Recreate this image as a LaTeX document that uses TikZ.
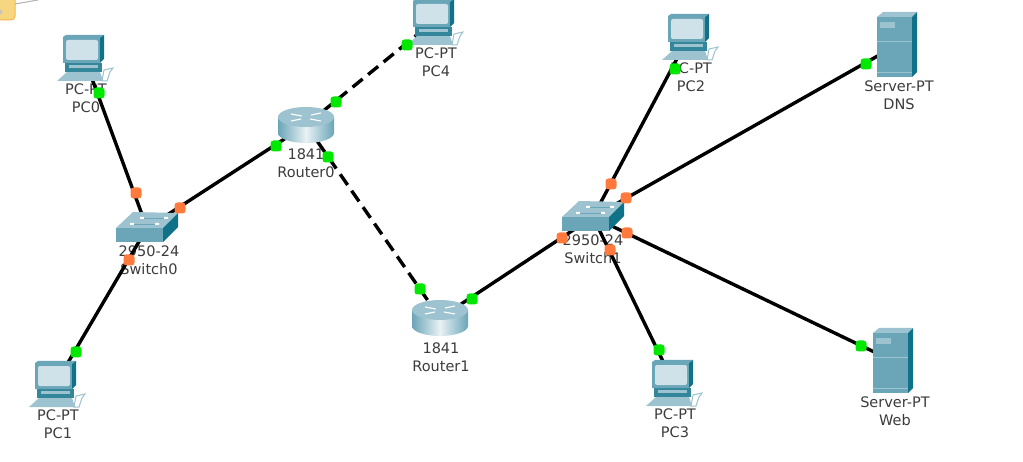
\documentclass[tikz,border=0pt]{standalone}
\usepackage{fontspec}
\setmainfont{DejaVu Sans}
\usepackage{xcolor}
\definecolor{tealbody}{HTML}{6AA5B8}
\definecolor{tealdark}{HTML}{0F7288}
\definecolor{teallight}{HTML}{9CC3CF}
\definecolor{screenblue}{HTML}{CFE2EA}
\definecolor{linkgreen}{HTML}{00E800}
\definecolor{linkorange}{HTML}{FF7A3C}
\definecolor{labelgray}{HTML}{3C3C3C}
\definecolor{notefill}{HTML}{F6D77F}
\tikzset{
  link/.style={black, line width=3.4pt},
  wanlink/.style={link, dash pattern=on 13pt off 7pt},
  devlabel/.style={text=labelgray, font=\fontsize{14.5}{18}\selectfont, align=center, inner sep=0pt},
  upport/.style={rectangle, rounded corners=3pt, fill=linkgreen, minimum size=11pt, inner sep=0pt},
  waitport/.style={rectangle, rounded corners=3pt, fill=linkorange, minimum size=11pt, inner sep=0pt},
  pics/pcicon/.style={code={
    \fill[white, draw=teallight, line width=1pt] (18,24) -- (20,13) -- (29,11) -- (26,15) -- (23,24) -- cycle;
    \fill[teallight] (-27,24) -- (-17,15) -- (16,15) -- (19,24) -- cycle;
    \fill[tealdark!60!tealbody] (-19,6) -- (18,6) -- (18,15) -- (-19,15) -- cycle;
    \fill[teallight] (-15,8) rectangle (14,11);
    \fill[tealbody] (-21,-20) -- (-18,-22) -- (20,-22) -- (16,-19) -- (16,6) -- (-21,6) -- cycle;
    \fill[tealdark] (16,-19) -- (20,-22) -- (20,2) -- (16,6) -- cycle;
    \fill[screenblue, rounded corners=2pt] (-18,-17) rectangle (14,3);
  }},
  pics/switchicon/.style={code={
    \fill[teallight] (-31,0) -- (-14,-16) -- (31,-15) -- (16,0) -- cycle;
    \fill[tealbody] (-31,0) rectangle (16,14);
    \fill[tealdark] (16,0) -- (31,-15) -- (31,-1) -- (16,14) -- cycle;
    \fill[white] (-7,-11) rectangle (-3,-9) (-17,-5) rectangle (-13,-3)
      (17,-11) rectangle (21,-9) (8,-5) rectangle (12,-3);
    \draw[tealbody, line width=0.7pt] (-3,-10) -- (17,-10) (-13,-4) -- (8,-4);
  }},
  pics/routericon/.style={code={
    \shade[left color=tealbody, right color=tealbody, middle color=white!85!tealbody]
      (-28,-8) -- (-28,8) arc[start angle=180, end angle=0, x radius=28, y radius=10]
      -- (28,-8) -- cycle;
    \fill[teallight] (0,-8) ellipse[x radius=28, y radius=10];
    \draw[white, line width=1.1pt] (-15,-11) -- (-4,-9) (4,-6) -- (15,-4)
      (-15,-4) -- (-5,-6) (5,-10) -- (15,-12);
  }},
  pics/servericon/.style={code={
    \fill[teallight] (-20,-28) -- (-14,-33) -- (20,-33) -- (15,-28) -- cycle;
    \fill[tealbody] (-20,-28) rectangle (15,32);
    \fill[tealdark] (15,-28) -- (20,-33) -- (20,27) -- (15,32) -- cycle;
    \fill[teallight] (-17,-23) rectangle (-2,-17);
    \draw[teallight, line width=0.7pt] (-20,-4) -- (15,-4) (-20,27) -- (15,27);
  }},
}
\begin{document}
\begin{tikzpicture}[x=1pt, y=-1pt]
\useasboundingbox (0,0) rectangle (1023,462);
\fill[white] (0,0) rectangle (1023,462);
\coordinate (PC0) at (84,57);
\coordinate (PC1) at (56,383);
\coordinate (PC2) at (689,36);
\coordinate (PC3) at (673,382);
\coordinate (PC4) at (434,21);
\coordinate (Switch0) at (147,228);
\coordinate (Switch1) at (593,217);
\coordinate (Router0) at (306,125);
\coordinate (Router1) at (440,318);
\coordinate (DNS) at (897,45);
\coordinate (Web) at (893,361);
\draw[notefill!60!orange, fill=notefill, rounded corners=4pt, line width=1pt] (-6,-6) rectangle (15,20);
\draw[gray!60, line width=1pt] (15,4) -- (38,0);
\fill[gray!45] (0,12) circle (2.5);
\node[devlabel] (lblPC0) at (86,98) {PC-PT\\PC0};
\node[devlabel] (lblPC1) at (58,424) {PC-PT\\PC1};
\node[devlabel] (lblPC2) at (691,77) {PC-PT\\PC2};
\node[devlabel] (lblPC3) at (675,423) {PC-PT\\PC3};
\node[devlabel] (lblPC4) at (436,62) {PC-PT\\PC4};
\node[devlabel] (lblSwitch0) at (149,260) {2950-24\\Switch0};
\node[devlabel] (lblSwitch1) at (593,249) {2950-24\\Switch1};
\node[devlabel] (lblRouter0) at (306,163) {1841\\Router0};
\node[devlabel] (lblRouter1) at (441,357) {1841\\Router1};
\node[devlabel] (lblDNS) at (899,95) {Server-PT\\DNS};
\node[devlabel] (lblWeb) at (895,411) {Server-PT\\Web};
\draw[link] (PC0) -- (Switch0);
\draw[link] (PC1) -- (Switch0);
\draw[link] (Switch0) -- (Router0);
\draw[wanlink] (Router0) -- (PC4);
\draw[wanlink] (Router0) -- (Router1);
\draw[link] (Router1) -- (Switch1);
\draw[link] (Switch1) -- (PC2);
\draw[link] (Switch1) -- (PC3);
\draw[link] (Switch1) -- (DNS);
\draw[link] (Switch1) -- (Web);
\pic at (PC0) {pcicon};
\pic at (PC1) {pcicon};
\pic at (PC2) {pcicon};
\pic at (PC3) {pcicon};
\pic at (PC4) {pcicon};
\pic at (Switch0) {switchicon};
\pic at (Switch1) {switchicon};
\pic at (Router0) {routericon};
\pic at (Router1) {routericon};
\pic at (DNS) {servericon};
\pic at (Web) {servericon};
\node[upport] (portPC0) at (99,93) {};
\node[waitport] (portSw0a) at (136,193) {};
\node[waitport] (portSw0b) at (129,260) {};
\node[upport] (portPC1) at (76,352) {};
\node[waitport] (portSw0c) at (180,208) {};
\node[upport] (portR0a) at (276,146) {};
\node[upport] (portR0b) at (336,102) {};
\node[upport] (portPC4) at (407,45) {};
\node[upport] (portR0c) at (328,157) {};
\node[upport] (portR1a) at (420,289) {};
\node[upport] (portR1b) at (472,299) {};
\node[waitport] (portSw1a) at (562,238) {};
\node[waitport] (portSw1b) at (611,184) {};
\node[upport] (portPC2) at (675,69) {};
\node[waitport] (portSw1c) at (626,198) {};
\node[upport] (portDNS) at (866,64) {};
\node[waitport] (portSw1d) at (627,233) {};
\node[upport] (portWeb) at (861,346) {};
\node[waitport] (portSw1e) at (610,250) {};
\node[upport] (portPC3) at (659,350) {};
\end{tikzpicture}
\end{document}
